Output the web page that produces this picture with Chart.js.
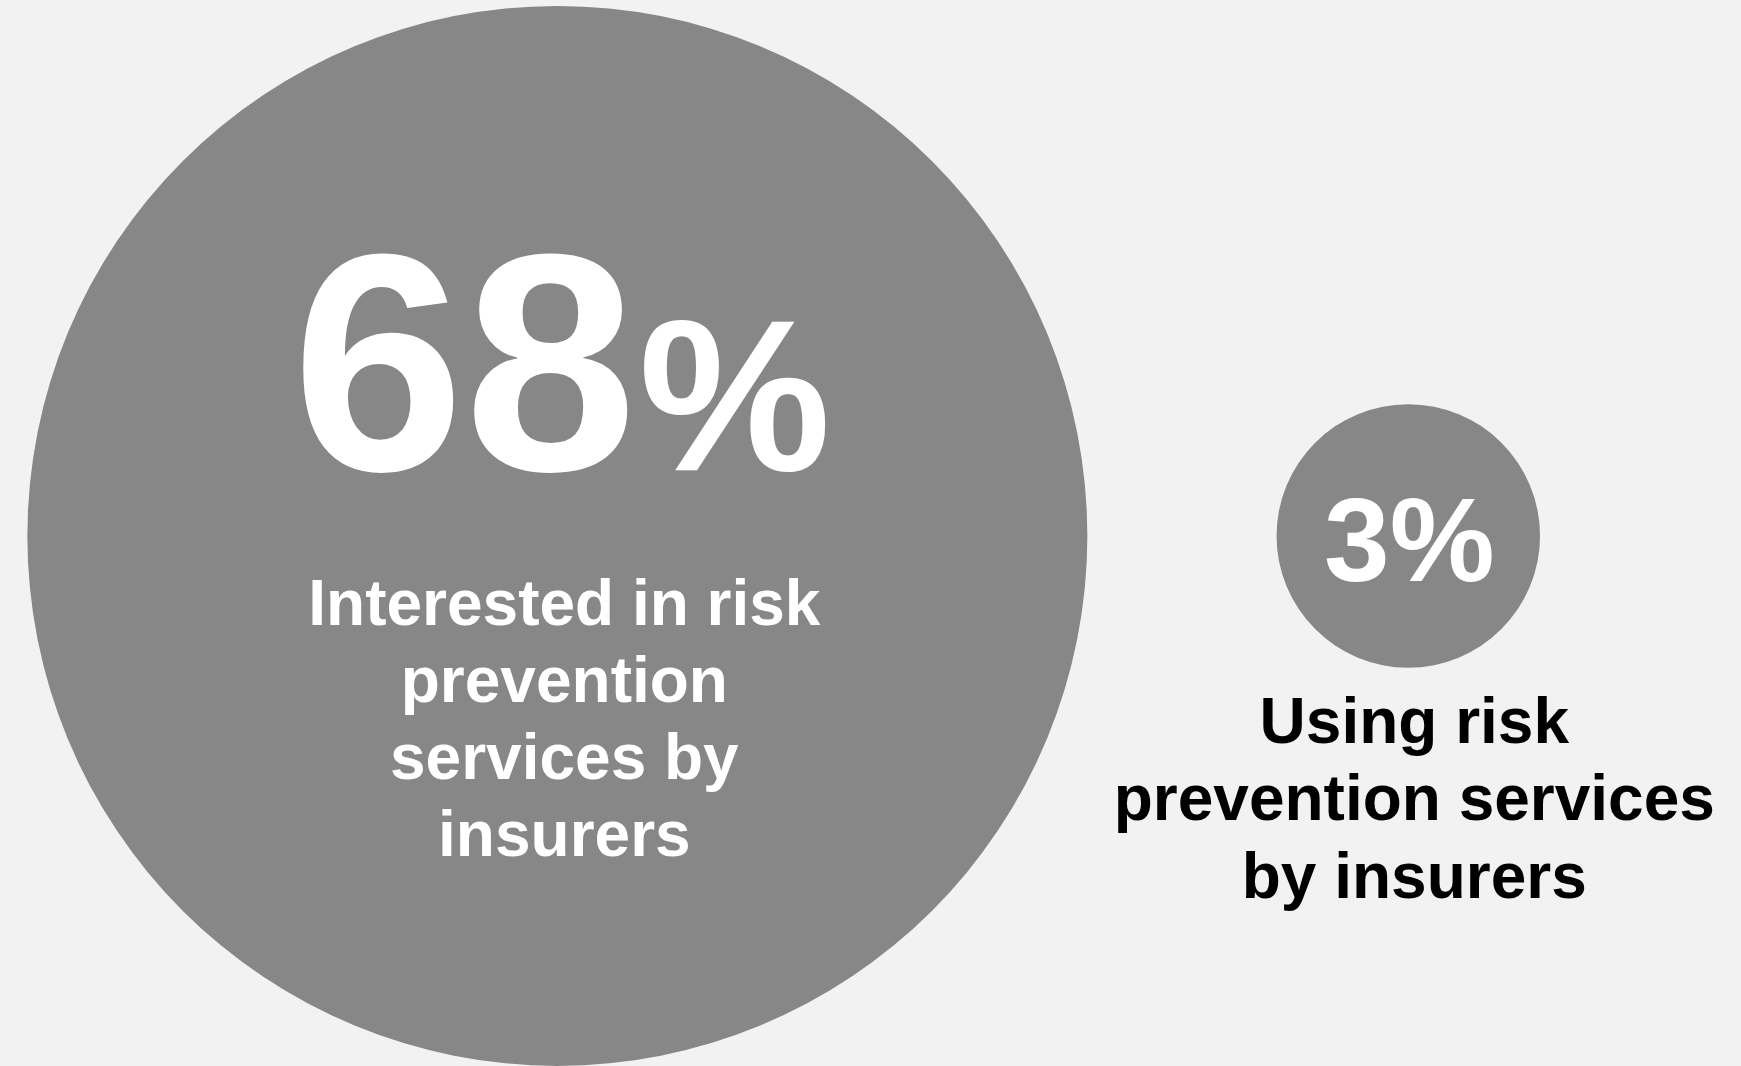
<!DOCTYPE html>
<html lang="en">

<head>
    <meta charset="UTF-8" />
    <meta name="viewport" content="width=device-width, initial-scale=1.0" />
    <title>Risk prevention services</title>
    <style>
        * {
            margin: 0;
            padding: 0;
        }

        body {
            background: #f2f2f2;
            overflow: hidden;
        }

        .chartBox {
            width: 1741px;
            height: 1066px;
        }
    </style>
</head>

<body>
    <div class="chartBox">
        <canvas id="myChart"></canvas>
    </div>
    <script src="https://cdn.jsdelivr.net/npm/chart.js@4.4.0/dist/chart.umd.min.js"></script>
    <script>
        // data
        const categories = [
            ["Interested in risk", "prevention", "services by", "insurers"],
            ["Using risk", "prevention services", "by insurers"]
        ];
        const values = [68, 3];
        const positions = [0, 1];

        const fontFamily = "'Liberation Sans', Arial, Helvetica, sans-serif";
        const bubbleColor = "#878787";

        // bubble size grows with the share, big one is 530px
        const maxRadius = 530;
        const radiusFor = (v) => maxRadius * Math.pow(v / Math.max(...values), 0.446);

        const points = values.map((v, i) => ({ x: positions[i], y: 0, r: radiusFor(v) }));

        const bubbleText = {
            id: "bubbleText",
            afterDatasetsDraw(chart) {
                const ctx = chart.ctx;
                const meta = chart.getDatasetMeta(0);
                ctx.save();
                ctx.textBaseline = "alphabetic";

                // big bubble
                let p = meta.data[0];
                ctx.fillStyle = "#ffffff";
                ctx.font = "bold 310px " + fontFamily;
                const num = String(values[0]);
                const wNum = ctx.measureText(num).width;
                ctx.font = "bold 216px " + fontFamily;
                const wPct = ctx.measureText("%").width;
                let x0 = p.x + 3 - (wNum + wPct) / 2;
                ctx.textAlign = "left";
                ctx.font = "bold 310px " + fontFamily;
                ctx.fillText(num, x0, p.y - 66);
                ctx.font = "bold 216px " + fontFamily;
                ctx.fillText("%", x0 + wNum + 2, p.y - 66);

                ctx.textAlign = "center";
                ctx.font = "bold 64px " + fontFamily;
                categories[0].forEach((line, i) => {
                    ctx.fillText(line, p.x + 7, p.y + 89 + i * 77);
                });

                // small bubble
                p = meta.data[1];
                ctx.font = "bold 118px " + fontFamily;
                ctx.fillText(values[1] + "%", p.x + 1, p.y + 45);

                ctx.fillStyle = "#000000";
                ctx.font = "bold 64px " + fontFamily;
                categories[1].forEach((line, i) => {
                    ctx.fillText(line, p.x + 6, p.y + 207 + i * 77.5);
                });

                ctx.restore();
            }
        };

        const data = {
            datasets: [
                {
                    label: "Risk prevention services",
                    data: points,
                    backgroundColor: bubbleColor,
                    borderColor: bubbleColor,
                    borderWidth: 0,
                    clip: false
                }
            ]
        };

        const options = {
            responsive: true,
            maintainAspectRatio: false,
            animation: false,
            events: [],
            layout: {
                padding: 0,
                autoPadding: false
            },
            scales: {
                x: {
                    type: "linear",
                    display: false,
                    min: -0.655,
                    max: 1.391
                },
                y: {
                    type: "linear",
                    display: false,
                    min: -1,
                    max: 1.011
                }
            },
            plugins: {
                legend: {
                    display: false
                },
                tooltip: {
                    enabled: false
                }
            }
        };

        const config = {
            type: "bubble",
            data: data,
            plugins: [bubbleText],
            options: options
        };

        const myChart = new Chart(document.getElementById("myChart"), config);
    </script>
</body>

</html>
